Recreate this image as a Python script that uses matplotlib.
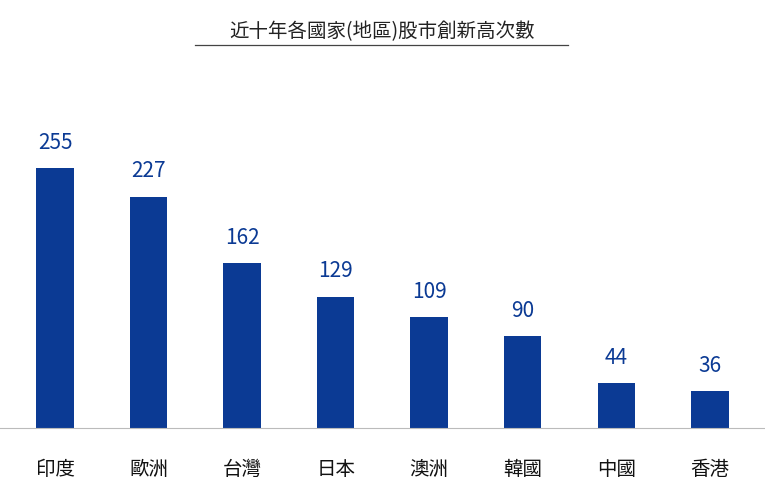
import matplotlib
matplotlib.use("Agg")
import matplotlib.pyplot as plt

categories = ["印度", "歐洲", "台灣", "日本", "澳洲", "韓國", "中國", "香港"]
values = [255, 227, 162, 129, 109, 90, 44, 36]
title = "近十年各國家(地區)股市創新高次數"

plt.rcParams["font.family"] = ["Noto Sans CJK TC", "Noto Sans CJK JP", "Noto Sans CJK SC", "DejaVu Sans"]
fig = plt.figure(figsize=(7.65, 5.0), dpi=100)
ax = fig.add_axes([0, 0.144, 1, 0.856])
color = "#0b3a94"
x = list(range(len(categories)))
ax.bar(x, values, width=0.4, color=color)
ax.set_xlim(-0.588, 7.59)
ax.set_ylim(0, 420)
for xi, v in zip(x, values):
    ax.text(xi, v + 14, str(v), ha="center", va="bottom", fontsize=15, color=color)
for s in ["top", "right", "left"]:
    ax.spines[s].set_visible(False)
ax.spines["bottom"].set_color("#bbbbbb")
ax.set_yticks([])
ax.set_xticks(x)
ax.set_xticklabels(categories, fontsize=14, color="#111111")
ax.tick_params(axis="x", length=0, pad=22)
fig.text(0.5, 0.936, title, ha="center", va="center", fontsize=14, color="#222222")
fig.add_artist(plt.Line2D([0.255, 0.742], [0.91, 0.91], color="#444444", lw=0.9))
fig.savefig("out.png", dpi=100)
